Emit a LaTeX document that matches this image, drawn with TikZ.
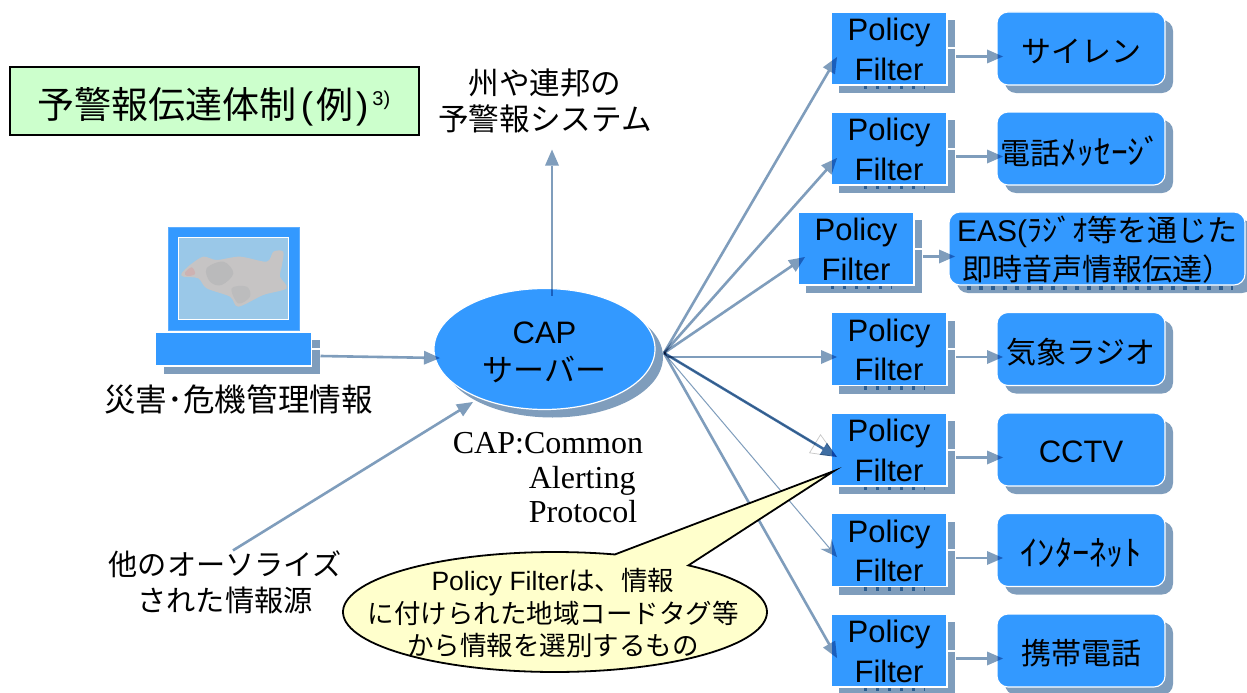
\documentclass[tikz,border=0pt]{standalone}
\usepackage{fontspec}
\setmainfont{Liberation Sans}
\newfontfamily\cjk{Noto Sans CJK JP}
\newfontfamily\tms{Liberation Serif}
\usetikzlibrary{shapes.geometric,shadows,calc,arrows.meta}
\definecolor{boxblue}{HTML}{3399FF}
\definecolor{shadowc}{HTML}{7F9DBC}
\definecolor{darkline}{HTML}{3F6EA3}
\definecolor{remn}{HTML}{2B5C8F}
\newcommand\J[1]{{\cjk #1}}
\newcommand\low[2]{\raisebox{-#1pt}[\height][\depth]{#2}}
\tikzset{
  x=1pt,y=-1pt,
  solid shadow/.style={general shadow={fill=shadowc,shadow xshift=8pt,shadow yshift=-8pt}},
  pfbox/.style={draw=white,line width=1.1pt,fill=boxblue,solid shadow,minimum width=116pt,minimum height=73pt,inner sep=0pt,outer sep=0pt,align=center,font=\fontsize{31}{39.5}\selectfont},
  rbox/.style={draw=white,line width=1.1pt,fill=boxblue,solid shadow,rounded corners=11pt,minimum width=168pt,minimum height=73pt,inner sep=0pt,outer sep=0pt,align=center,font=\fontsize{30}{39.5}\selectfont},
  plain/.style={inner sep=0pt,outer sep=0pt,align=center,font=\fontsize{30}{36}\selectfont},
  conn/.style={draw=shadowc,line width=2.6pt,blend mode=multiply,-{Triangle[length=16pt,width=14pt,line width=0pt,fill=shadowc]}},
  thinconn/.style={draw=shadowc,line width=1pt,blend mode=multiply,-{Stealth[length=17pt,width=15pt,inset=6pt,line width=0pt,fill=shadowc]}},
  gap/.style={draw=white,line width=2pt},
  remnant/.style={draw=remn,line width=3.5pt,dash pattern=on 3pt off 9pt},
}
\newcommand\pf[3]{%
  \node[pfbox] (#1) at (#2,#3) {\low{1}{Policy}\\\low{1}{Filter}};
  \draw[remnant] ($(#1.south)+(-25,2.5)$) -- ($(#1.south)+(36,2.5)$);
}
\newcommand\stub[2]{%
  \draw[gap] (#1.east) -- ++(9,0);
  \draw[conn] ($(#1.east)+(9,8)$) -- ($(#2.west)+(6,8)$);
}
\begin{document}
\begin{tikzpicture}
\useasboundingbox (0,0) rectangle (1247,693);
\fill[white] (0,0) rectangle (1247,693);

% title
\node[draw=black,line width=2pt,fill=green!20,minimum width=409pt,minimum height=67pt,inner sep=0pt,font=\fontsize{37}{40}\selectfont] (title) at (214,101)
  {\low{6}{\J{予警報伝達体制}\hspace{4pt}(\hspace{3pt}\J{例}\hspace{3pt})\hspace{4pt}\raisebox{13pt}{\fontsize{20}{22}\selectfont 3)}}};

\node[plain,font=\fontsize{30.6}{36}\selectfont] (upper) at (545,100.5) {\J{州や連邦の}\\\J{予警報システム}};

% computer
\node[draw=boxblue!80!white,line width=1pt,fill=boxblue,minimum width=131pt,minimum height=103pt,inner sep=0pt,outer sep=0pt] (monitor) at (233.5,278.5) {};
\node[draw=white,line width=1.6pt,minimum width=110pt,minimum height=82pt,inner sep=0pt,outer sep=0pt,fill={rgb,255:red,154;green,200;blue,232}] (screen) at (233.5,278.5) {};
\begin{scope}[shift={(140,210)}]
\begin{scope}[x=.3333pt,y=-.3333pt]
\fill[fill={rgb,255:red,198;green,196;blue,196}] plot[smooth cycle,tension=.5] coordinates {(125,190) (150,165) (190,140) (230,150) (300,140) (380,155) (400,125) (430,125) (425,170) (420,200) (440,235) (370,255) (295,290) (270,260) (200,235) (175,205) (130,200)};
\fill[fill={rgb,255:red,186;green,186;blue,187}] plot[smooth cycle,tension=.6] coordinates {(200,175) (250,155) (280,190) (245,225) (210,215)};
\fill[fill={rgb,255:red,188;green,188;blue,189}] plot[smooth cycle,tension=.6] coordinates {(275,235) (320,230) (330,260) (295,280)};
\fill[fill={rgb,255:red,205;green,178;blue,178}] plot[smooth cycle,tension=.6] coordinates {(135,188) (155,172) (165,192) (142,198)};
\end{scope}
\end{scope}
\node[draw=white,line width=1.1pt,fill=boxblue,solid shadow,minimum width=156pt,minimum height=34pt,inner sep=0pt,outer sep=0pt] (base) at (233.5,349) {};
\node[plain,font=\fontsize{31.6}{36}\selectfont] (disaster) at (238.5,399) {\J{災害･危機管理情報}};

% CAP server
\node[ellipse,draw=white,line width=1.2pt,fill=boxblue,solid shadow,minimum width=221pt,minimum height=121pt,inner sep=0pt,outer sep=0pt,align=center,font=\fontsize{31}{38}\selectfont] (cap) at (544.5,349) {\low{3}{CAP}\\\low{3}{\J{サーバー}}};
\node[inner sep=0pt,outer sep=0pt,align=left,font=\tms\fontsize{32}{34.5}\selectfont] (capnote) at (548,478) {CAP:Common\\\hspace*{76pt}Alerting\\\hspace*{76pt}Protocol};

\node[plain,font=\fontsize{29.2}{36}\selectfont] (others) at (225,582) {\J{他のオーソライズ}\\\J{された情報源}};

% fan: the pale duplicate lies under the filter box
\coordinate (hub) at (664,353);
\coordinate (hubh) at (668,357);
\coordinate (whitetip) at (837,457);
\draw[draw=black!22,line width=.7pt,-{Triangle[length=26pt,width=22pt,fill=white]}] (hub) -- (whitetip);

% filters
\pf{f1}{889}{48.5}
\pf{f2}{889}{148.5}
\pf{f3}{856}{248.5}
\pf{f4}{889}{349}
\pf{f5}{889}{449.5}
\pf{f6}{889}{550}
\pf{f7}{889}{650.5}

\node[rbox] (r1) at (1081,48.5) {\low{3}{\J{サイレン}}};
\node[rbox] (r2) at (1081,148.5) {\low{3}{\J{電話}\fontsize{33.5}{39.5}\selectfont\J{ﾒｯｾｰｼﾞ}}};
\node[rbox,minimum width=296pt] (r3) at (1097,248.5) {\low{1}{EAS(\J{ﾗｼﾞｵ等を通じた}}\\\low{1}{\J{即時音声情報伝達）}}};
\draw[remnant,dash pattern=on 4pt off 8pt] (967,288) -- (1233,288);
\node[rbox] (r4) at (1081,349) {\low{3}{\J{気象ラジオ}}};
\node[rbox] (r5) at (1081,449.5) {\low{2}{\fontsize{31}{39.5}\selectfont CCTV}};
\node[rbox] (r6) at (1081,550) {\low{3}{\fontsize{34.5}{39.5}\selectfont\J{ｲﾝﾀｰﾈｯﾄ}}};
\node[rbox] (r7) at (1081,650.5) {\low{3}{\J{携帯電話}}};

% short connectors
\stub{f1}{r1}
\stub{f2}{r2}
\stub{f3}{r3}
\stub{f4}{r4}
\stub{f5}{r5}
\stub{f6}{r6}
\stub{f7}{r7}

% inputs and output
\draw[gap] (base.east) -- ++(9,0);
\draw[conn] ($(base.east)+(9,7)$) -- ($(cap.west)+(6,9)$);
\coordinate (othersrc) at ($(others.north)+(8,0)$);
\draw[conn] (othersrc) -- ($(cap.center)+(-71.5,53)$);
\draw[conn] ($(cap.north)+(7.5,7)$) -- ($(upper.south)+(7,17)$);

\draw[conn] (hub) -- ($(f1.west)+(6,8.5)$);
\draw[conn] (hub) -- ($(f2.west)+(6,9.5)$);
\draw[conn] (hub) -- ($(f3.west)+(7,8.5)$);
\draw[conn] (hubh) -- ($(f4.west)+(6,8)$);
\draw[conn,draw=darkline,-{Triangle[length=16pt,width=14pt,line width=0pt,fill=darkline]}] (hub) -- ($(f5.west)+(6,7.5)$);
\draw[thinconn] (hub) -- ($(f6.west)+(6,7)$);
\draw[conn] (hub) -- ($(f7.west)+(6,7.5)$);

% callout
\coordinate (calltip) at ($(f5.west)+(3,21.5)$);
\draw[draw=black,line width=1.8pt,fill={rgb,255:red,255;green,255;blue,204}] (calltip) -- plot[domain=-51:286.4,samples=120] ({555+212*cos(\x)},{612+60*sin(\x)}) -- cycle;
\node[inner sep=0pt,outer sep=0pt,align=center,font=\fontsize{26.5}{32.5}\selectfont] (calltext) at (553,613) {Policy Filter\J{は、情報}\\\J{に付けられた地域コードタグ等}\\\J{から情報を選別するもの}};
\end{tikzpicture}
\end{document}
